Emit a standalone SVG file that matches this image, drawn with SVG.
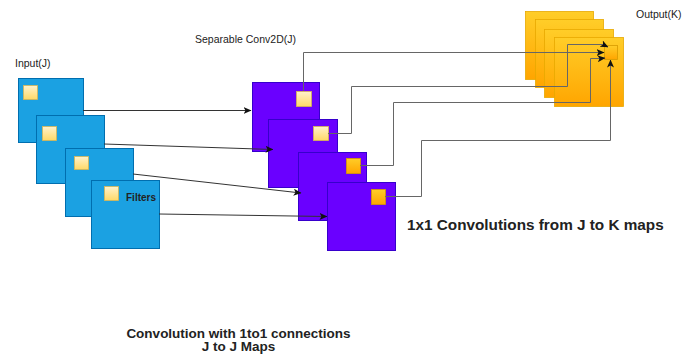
<svg xmlns="http://www.w3.org/2000/svg" width="683" height="359" viewBox="0 0 683 359">
  <defs>
    <linearGradient id="gOrange" x1="0" y1="0" x2="0" y2="1">
      <stop offset="0" stop-color="#ffcd28"/>
      <stop offset="1" stop-color="#ffa500"/>
    </linearGradient>
    <linearGradient id="gCream" x1="0" y1="0" x2="0" y2="1">
      <stop offset="0" stop-color="#fff2cc"/>
      <stop offset="1" stop-color="#ffd966"/>
    </linearGradient>
    <marker id="arrow" viewBox="0 0 8 7" refX="7.5" refY="3.5" markerWidth="8" markerHeight="7" markerUnits="userSpaceOnUse" orient="auto">
      <path d="M0,0 L8,3.5 L0,7 L2,3.5 z" fill="#111"/>
    </marker>
  </defs>
  <style>
    .lbl { font-family: "Liberation Sans", Arial, sans-serif; fill: #222; }
    .small { font-size: 10.5px; }
    .bold { font-weight: bold; }
    .blue { fill: #1ba1e2; stroke: #006eaf; stroke-width: 1; }
    .purple { fill: #6a00ff; stroke: #3700cc; stroke-width: 1; }
    .out { fill: url(#gOrange); stroke: #e8a800; stroke-width: 0.8; }
    .cream { fill: url(#gCream); stroke: #d6b656; stroke-width: 0.8; }
    .amber { fill: url(#gOrange); stroke: #d79b00; stroke-width: 0.8; }
    .edge-in { fill: none; stroke: #333; stroke-width: 1; marker-end: url(#arrow); }
    .edge-out { fill: none; stroke: #666; stroke-width: 1; marker-end: url(#arrow); }
  </style>

  <rect width="683" height="359" fill="#ffffff"/>

  <!-- input feature maps -->
  <g id="input-1">
    <rect class="blue" x="18.5" y="78.5" width="65" height="64"/>
    <rect class="cream" x="23.5" y="85.5" width="14" height="14"/>
  </g>
  <g id="input-2">
    <rect class="blue" x="36.5" y="115.5" width="68" height="68"/>
    <rect class="cream" x="42.5" y="126.5" width="14" height="14"/>
  </g>
  <g id="input-3">
    <rect class="blue" x="65.5" y="148.5" width="68" height="68"/>
    <rect class="cream" x="74.5" y="156.5" width="14" height="13"/>
  </g>
  <g id="input-4">
    <rect class="blue" x="91.5" y="180.5" width="68" height="68"/>
    <rect class="cream" x="104.5" y="186.5" width="14" height="14"/>
    <text class="lbl bold" x="126" y="200.5" font-size="10">Filters</text>
  </g>

  <!-- depthwise (separable) maps -->
  <g id="sep-1">
    <rect class="purple" x="252.5" y="82.5" width="67" height="69"/>
    <rect class="cream" x="296.5" y="91.5" width="15" height="15"/>
  </g>
  <g id="sep-2">
    <rect class="purple" x="268.5" y="119.5" width="69" height="68"/>
    <rect class="cream" x="313.5" y="126.5" width="15" height="14"/>
  </g>
  <g id="sep-3">
    <rect class="purple" x="298.5" y="152.5" width="68" height="68"/>
    <rect class="amber" x="346.5" y="158.5" width="14" height="15"/>
  </g>
  <g id="sep-4">
    <rect class="purple" x="327.5" y="182.5" width="68" height="68"/>
    <rect class="amber" x="371.5" y="189.5" width="14" height="15"/>
  </g>

  <!-- output maps -->
  <g id="output">
    <rect class="out" x="525.5" y="11.5" width="68" height="68"/>
    <rect class="out" x="535.5" y="19.5" width="68" height="68"/>
    <rect class="out" x="544.5" y="29.5" width="69" height="68"/>
    <rect class="out" x="554.5" y="37.5" width="69" height="69"/>
    <rect class="amber" x="604.5" y="45.5" width="13" height="14"/>
  </g>

  <!-- connectors -->
  <g id="connectors">
    <path class="edge-in" d="M83,110.5 L251,110.5"/>
    <path class="edge-in" d="M104,144 L273,149.5"/>
    <path class="edge-in" d="M133,174 L301,193"/>
    <path class="edge-in" d="M159,214 L327,216.5"/>

    <path class="edge-out" d="M303.5,91 V52.5 H604"/>
    <path class="edge-out" d="M328,133.5 H351.5 V86.5 H567.5 V44.5 H603 L608,47"/>
    <path class="edge-out" d="M360,165.5 H393.5 V102.5 H590.5 V58.5 H600 L605,58"/>
    <path class="edge-out" d="M385,196.5 H421.5 V140.5 H610.5 V60"/>
  </g>

  <!-- labels -->
  <text class="lbl small" x="15" y="66.5">Input(J)</text>
  <text class="lbl small" x="195" y="42.5">Separable Conv2D(J)</text>
  <text class="lbl small" x="636" y="18">Output(K)</text>
  <text class="lbl bold" x="407" y="230" font-size="15.3">1x1 Convolutions from J to K maps</text>
  <text class="lbl bold" x="238.5" y="337.5" font-size="13.5" text-anchor="middle">Convolution with 1to1 connections</text>
  <text class="lbl bold" x="238.5" y="351" font-size="13.5" text-anchor="middle">J to J Maps</text>
</svg>
